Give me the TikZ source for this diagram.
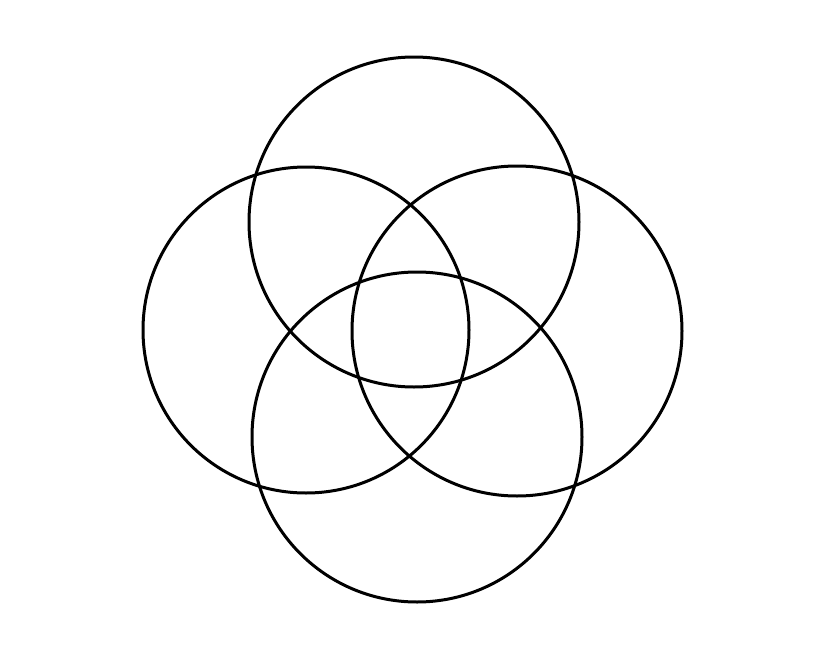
\documentclass[tikz,border=0pt]{standalone}
\usepackage{tikz}
\usetikzlibrary{positioning}
\tikzset{ringline/.style = {draw=black,line width=3pt}}
\begin{document}
\begin{tikzpicture}[x=1pt,y=-1pt]
\useasboundingbox (0,0) rectangle (820,656);
\fill[white] (0,0) rectangle (820,656);
\foreach \cx/\cy/\r in {414/222/165, 306/330/163, 517/331/165, 417/437/165}
{
	\draw[ringline] (\cx,\cy) circle (\r);
}
\end{tikzpicture}
\end{document}
